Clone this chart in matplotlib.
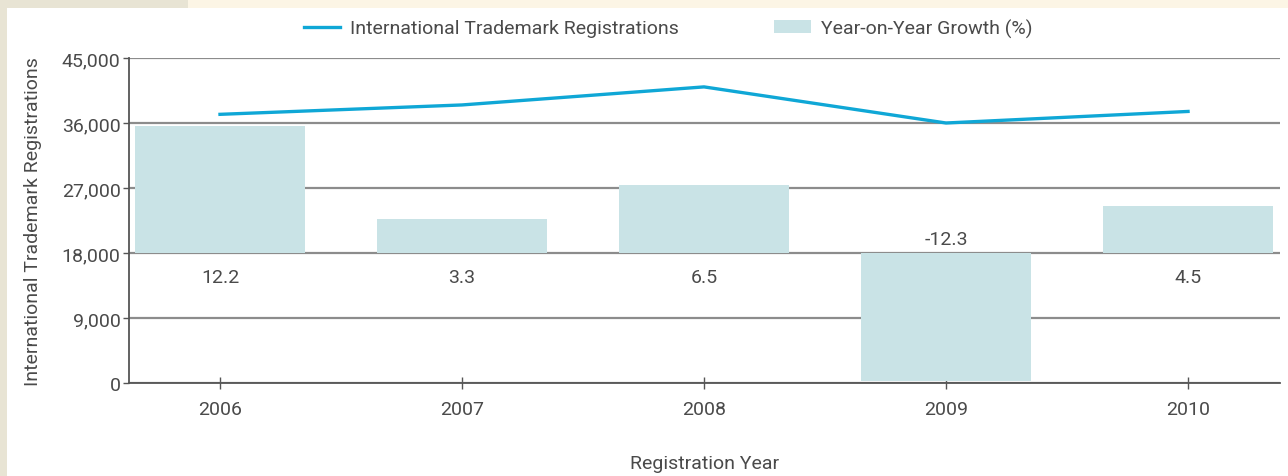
import matplotlib.pyplot as plt
from matplotlib.patches import Rectangle
from matplotlib.ticker import FuncFormatter

plt.rcParams['font.family'] = ['Roboto', 'DejaVu Sans']

years = ['2006', '2007', '2008', '2009', '2010']
registrations = [37200, 38500, 41000, 36000, 37600]
growth = [12.2, 3.3, 6.5, -12.3, 4.5]

line_color = '#0fa7d6'
bar_color = '#c9e3e6'
text_color = '#4a4a4a'

fig = plt.figure(figsize=(12.88, 4.77), dpi=100, facecolor='white')

# page background strips
fig.patches.append(Rectangle((0, 0), 7 / 1288, 1, transform=fig.transFigure,
                             facecolor='#e8e4d4', edgecolor='none', zorder=0))
fig.patches.append(Rectangle((0, 1 - 9 / 477), 188 / 1288, 9 / 477, transform=fig.transFigure,
                             facecolor='#e8e4d4', edgecolor='none', zorder=0))
fig.patches.append(Rectangle((188 / 1288, 1 - 9 / 477), 1, 9 / 477, transform=fig.transFigure,
                             facecolor='#fcf5e5', edgecolor='none', zorder=0))

ax = fig.add_axes([129 / 1288, 1 - 384 / 477, (1280 - 129) / 1288, (384 - 59) / 477])
x = list(range(len(years)))

ax.set_ylim(0, 45000)
ax.set_xlim(-0.376, 4.38)
ax.set_yticks([0, 9000, 18000, 27000, 36000, 45000])
ax.yaxis.set_major_formatter(FuncFormatter(lambda v, p: f'{int(v):,}'))
ax.set_xticks(x)
ax.set_xticklabels(years)
ax.grid(axis='y', color='#8c8c8c', linewidth=1.6)
ax.set_axisbelow(True)
for s in ['top', 'right']:
    ax.spines[s].set_visible(False)
ax.spines['left'].set_color('#555555')
ax.spines['bottom'].set_color('#555555')
ax.spines['left'].set_linewidth(1.3)
ax.spines['bottom'].set_linewidth(1.3)
ax.tick_params(axis='y', length=4, width=1, color='#555555', labelsize=14,
               labelcolor=text_color, pad=2)
ax.tick_params(axis='x', direction='inout', length=8, width=1, color='#555555',
               labelsize=14, labelcolor=text_color, pad=8)

line, = ax.plot(x, registrations, color=line_color, linewidth=2.4,
                label='International Trademark Registrations', zorder=5)

ax.set_ylabel('International Trademark Registrations', fontsize=14, color=text_color, labelpad=14)
ax.set_xlabel('Registration Year', fontsize=14, color=text_color, labelpad=26)

# growth bars on a hidden secondary scale, zero aligned with 18,000
ax2 = ax.twinx()
ax2.set_ylim(-12.45, 18.68)
ax2.axis('off')
bars = ax2.bar(x, growth, width=0.7, color=bar_color, label='Year-on-Year Growth (%)')

for xi, g in zip(x, growth):
    if g >= 0:
        ax2.annotate(f'{g}', (xi, 0), xytext=(0, -17), textcoords='offset points',
                     ha='center', va='center', fontsize=14, color=text_color)
    else:
        ax2.annotate(f'{g}', (xi, 0), xytext=(0, 10), textcoords='offset points',
                     ha='center', va='center', fontsize=14, color=text_color)

fig.legend([line, bars], ['International Trademark Registrations', 'Year-on-Year Growth (%)'],
           loc='center', bbox_to_anchor=(668 / 1288, 1 - 29 / 477), ncol=2, frameon=False,
           fontsize=14, labelcolor=text_color, columnspacing=4.9, handlelength=1.9,
           handletextpad=0.5)

fig.savefig('out.png', dpi=100, facecolor=fig.get_facecolor())
